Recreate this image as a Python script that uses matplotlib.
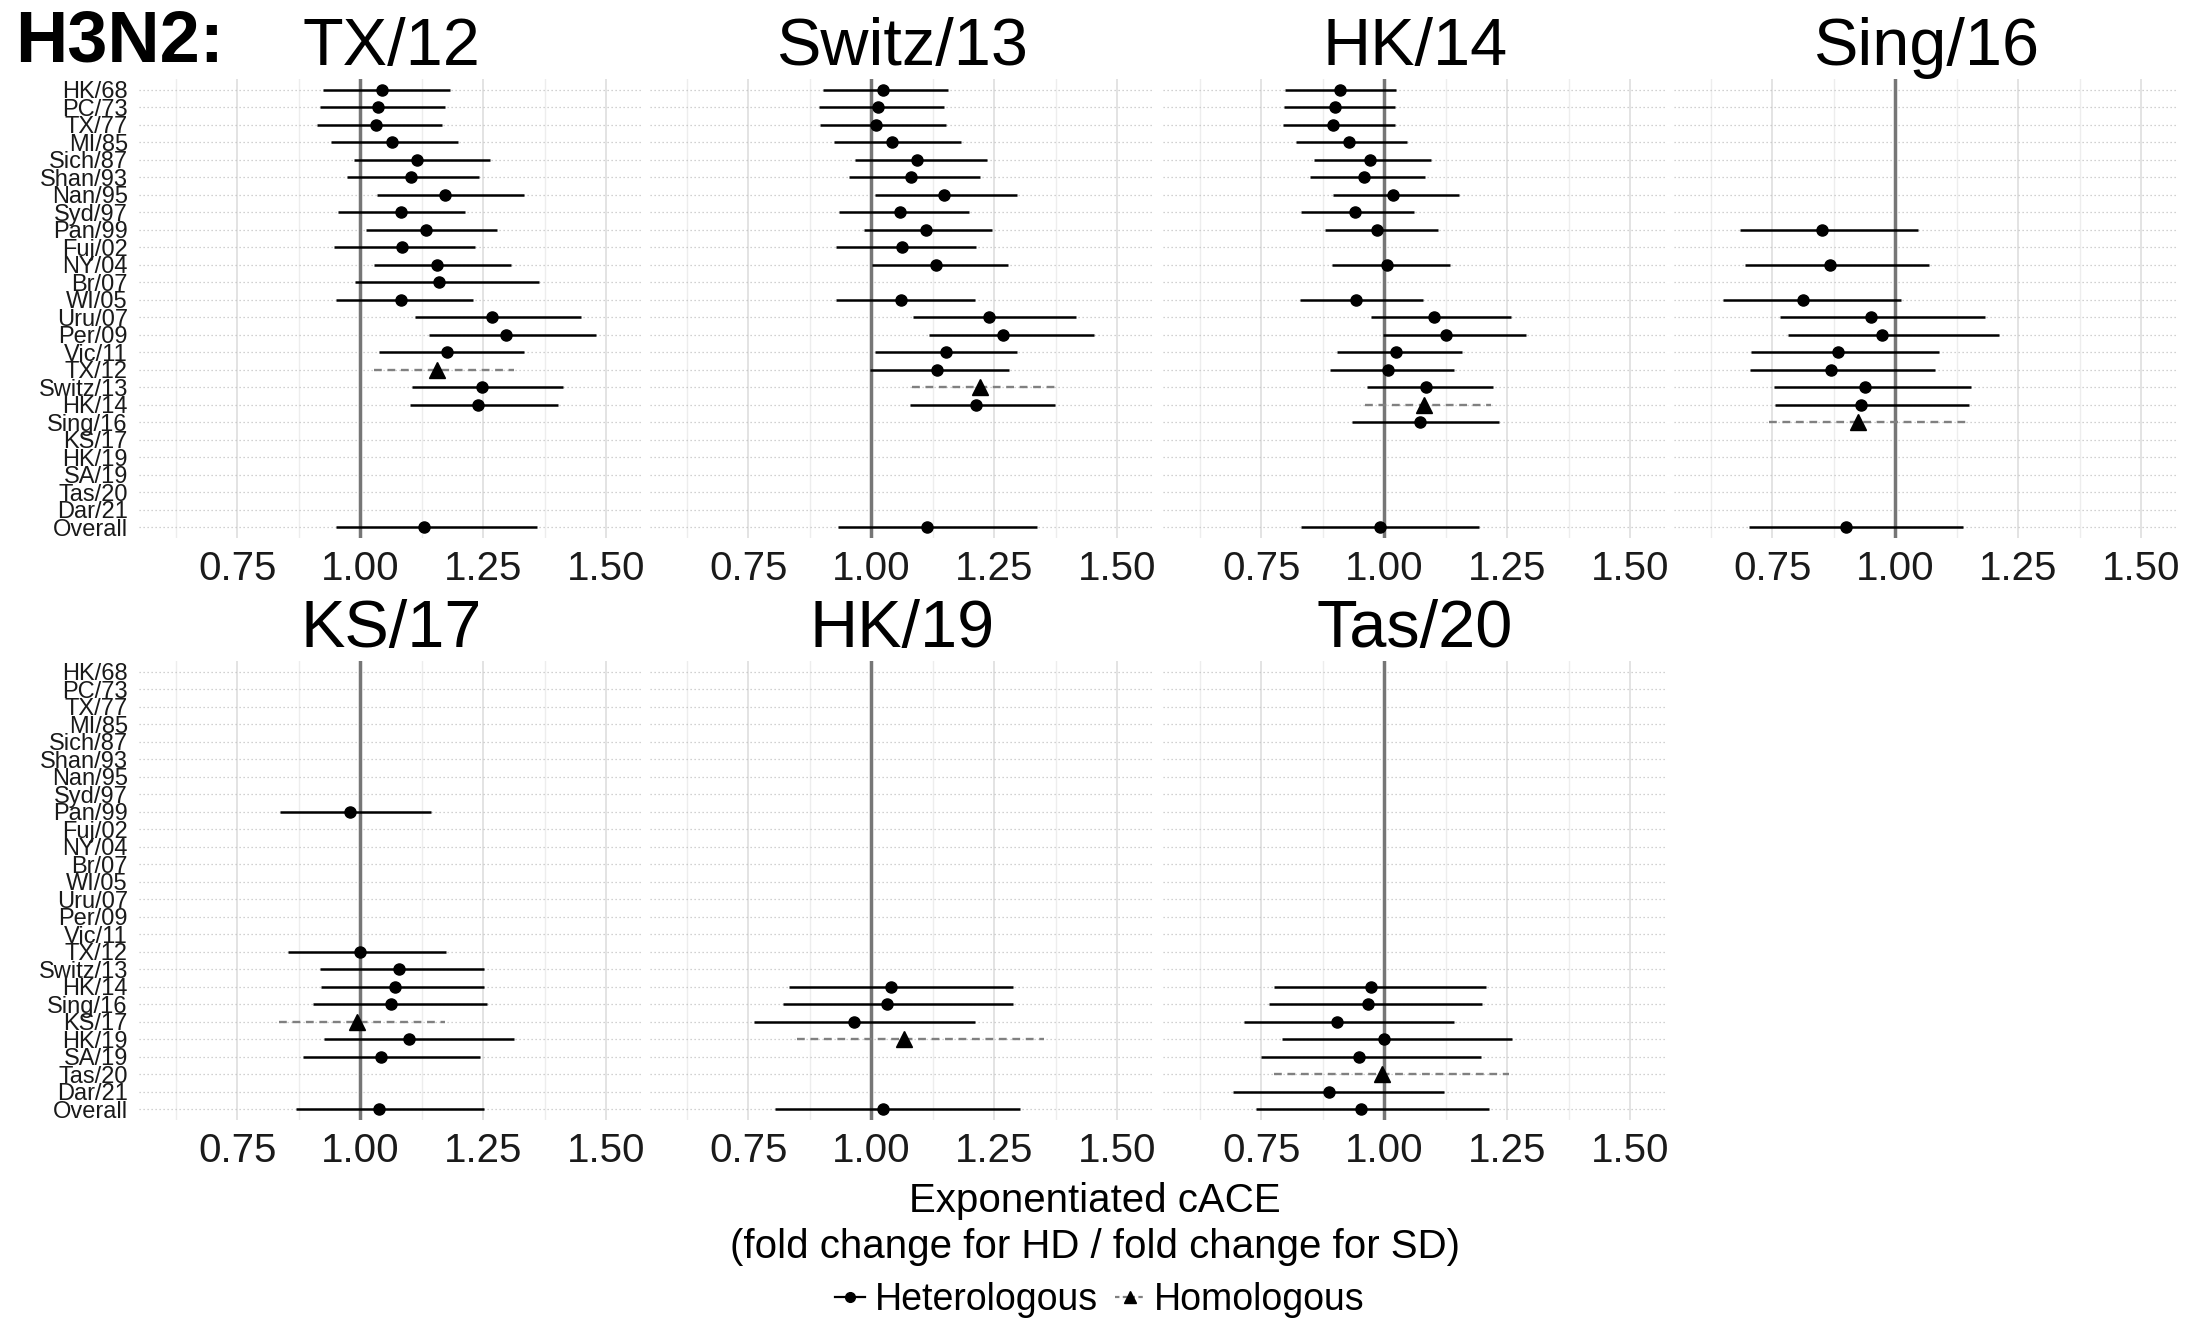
import matplotlib
matplotlib.use("Agg")
import matplotlib.pyplot as plt
from matplotlib.lines import Line2D

plt.rcParams['font.family'] = ['Liberation Sans', 'DejaVu Sans']

# strains on the y axis, top to bottom
strains = ["HK/68", "PC/73", "TX/77", "MI/85", "Sich/87", "Shan/93", "Nan/95",
           "Syd/97", "Pan/99", "Fuj/02", "NY/04", "Br/07", "WI/05", "Uru/07",
           "Per/09", "Vic/11", "TX/12", "Switz/13", "HK/14", "Sing/16", "KS/17",
           "HK/19", "SA/19", "Tas/20", "Dar/21", "Overall"]

# exponentiated cACE estimates with 95% CI, one block per vaccine strain
tx12_rows = ["HK/68", "PC/73", "TX/77", "MI/85", "Sich/87", "Shan/93", "Nan/95", "Syd/97",
             "Pan/99", "Fuj/02", "NY/04", "Br/07", "WI/05", "Uru/07", "Per/09", "Vic/11",
             "TX/12", "Switz/13", "HK/14", "Overall"]
tx12_est = [1.044, 1.037, 1.032, 1.065, 1.115, 1.104, 1.172, 1.082, 1.134, 1.085,
            1.156, 1.160, 1.083, 1.268, 1.296, 1.176, 1.157, 1.248, 1.240, 1.130]
tx12_lo = [0.925, 0.918, 0.911, 0.940, 0.987, 0.973, 1.034, 0.954, 1.011, 0.947,
           1.027, 0.989, 0.950, 1.111, 1.140, 1.038, 1.027, 1.106, 1.102, 0.951]
tx12_hi = [1.183, 1.172, 1.166, 1.198, 1.264, 1.242, 1.333, 1.214, 1.279, 1.234,
           1.306, 1.364, 1.230, 1.449, 1.480, 1.332, 1.313, 1.412, 1.402, 1.360]

switz13_rows = ["HK/68", "PC/73", "TX/77", "MI/85", "Sich/87", "Shan/93", "Nan/95", "Syd/97",
                "Pan/99", "Fuj/02", "NY/04", "WI/05", "Uru/07", "Per/09", "Vic/11", "TX/12",
                "Switz/13", "HK/14", "Overall"]
switz13_est = [1.023, 1.014, 1.010, 1.043, 1.092, 1.080, 1.147, 1.058, 1.111, 1.062,
               1.131, 1.061, 1.240, 1.267, 1.151, 1.134, 1.222, 1.213, 1.113]
switz13_lo = [0.901, 0.894, 0.895, 0.925, 0.966, 0.954, 1.007, 0.935, 0.986, 0.928,
              1.002, 0.928, 1.085, 1.118, 1.008, 0.997, 1.082, 1.079, 0.932]
switz13_hi = [1.157, 1.148, 1.152, 1.182, 1.236, 1.221, 1.297, 1.198, 1.246, 1.212,
              1.279, 1.210, 1.417, 1.452, 1.297, 1.280, 1.381, 1.373, 1.338]

hk14_rows = ["HK/68", "PC/73", "TX/77", "MI/85", "Sich/87", "Shan/93", "Nan/95", "Syd/97",
             "Pan/99", "NY/04", "WI/05", "Uru/07", "Per/09", "Vic/11", "TX/12", "Switz/13",
             "HK/14", "Sing/16", "Overall"]
hk14_est = [0.909, 0.899, 0.896, 0.928, 0.970, 0.959, 1.018, 0.941, 0.986, 1.005,
            0.943, 1.101, 1.126, 1.024, 1.007, 1.085, 1.080, 1.072, 0.992]
hk14_lo = [0.799, 0.796, 0.794, 0.821, 0.858, 0.848, 0.896, 0.831, 0.880, 0.893,
           0.828, 0.972, 0.997, 0.904, 0.890, 0.965, 0.961, 0.934, 0.831]
hk14_hi = [1.024, 1.021, 1.022, 1.047, 1.095, 1.083, 1.151, 1.061, 1.110, 1.134,
           1.078, 1.257, 1.289, 1.159, 1.141, 1.222, 1.218, 1.233, 1.193]

sing16_rows = ["Pan/99", "NY/04", "WI/05", "Uru/07", "Per/09", "Vic/11", "TX/12",
               "Switz/13", "HK/14", "Sing/16", "Overall"]
sing16_est = [0.851, 0.868, 0.813, 0.950, 0.972, 0.883, 0.869, 0.938, 0.931, 0.925, 0.899]
sing16_lo = [0.685, 0.695, 0.650, 0.766, 0.781, 0.706, 0.705, 0.753, 0.756, 0.743, 0.703]
sing16_hi = [1.047, 1.069, 1.012, 1.183, 1.210, 1.088, 1.080, 1.155, 1.149, 1.152, 1.137]

ks17_rows = ["Pan/99", "TX/12", "Switz/13", "HK/14", "Sing/16", "KS/17", "HK/19",
             "SA/19", "Overall"]
ks17_est = [0.979, 1.000, 1.078, 1.070, 1.062, 0.993, 1.099, 1.043, 1.038]
ks17_lo = [0.837, 0.853, 0.919, 0.920, 0.904, 0.834, 0.926, 0.883, 0.870]
ks17_hi = [1.143, 1.174, 1.252, 1.251, 1.257, 1.173, 1.312, 1.244, 1.251]

hk19_rows = ["HK/14", "Sing/16", "KS/17", "HK/19", "Overall"]
hk19_est = [1.040, 1.031, 0.964, 1.067, 1.023]
hk19_lo = [0.832, 0.821, 0.761, 0.848, 0.805]
hk19_hi = [1.289, 1.289, 1.211, 1.352, 1.302]

tas20_rows = ["HK/14", "Sing/16", "KS/17", "HK/19", "SA/19", "Tas/20", "Dar/21", "Overall"]
tas20_est = [0.973, 0.966, 0.903, 1.000, 0.948, 0.995, 0.888, 0.953]
tas20_lo = [0.776, 0.765, 0.715, 0.792, 0.749, 0.776, 0.692, 0.739]
tas20_hi = [1.206, 1.199, 1.141, 1.259, 1.196, 1.253, 1.122, 1.212]

panels = [
    ("TX/12", tx12_rows, tx12_est, tx12_lo, tx12_hi),
    ("Switz/13", switz13_rows, switz13_est, switz13_lo, switz13_hi),
    ("HK/14", hk14_rows, hk14_est, hk14_lo, hk14_hi),
    ("Sing/16", sing16_rows, sing16_est, sing16_lo, sing16_hi),
    ("KS/17", ks17_rows, ks17_est, ks17_lo, ks17_hi),
    ("HK/19", hk19_rows, hk19_est, hk19_lo, hk19_hi),
    ("Tas/20", tas20_rows, tas20_est, tas20_lo, tas20_hi),
]

x_ticks = [0.75, 1.00, 1.25, 1.50]
x_minor = [0.625, 0.875, 1.125, 1.375]

# figure layout in pixels
W, H = 2188, 1318
fig = plt.figure(figsize=(W / 100, H / 100), dpi=100)
col_left = [139, 650, 1163, 1674]
row_top = [79, 661]
panel_w, panel_h = 504, 459


def add_panel(col, row):
    left = col_left[col] / W
    bottom = 1 - (row_top[row] + panel_h) / H
    return fig.add_axes([left, bottom, panel_w / W, panel_h / H])


for i, (name, rows, est, lo, hi) in enumerate(panels):
    col, row = i % 4, i // 4
    ax = add_panel(col, row)
    ax.set_xlim(0.55, 1.575)
    ax.set_ylim(len(strains) - 0.4, -0.6)

    # background grid
    for x in x_minor:
        ax.axvline(x, color='#ededed', lw=1.0, zorder=0)
    for x in x_ticks:
        ax.axvline(x, color='#e0e0e0', lw=1.3, zorder=0)
    for y in range(len(strains)):
        ax.axhline(y, color='#c2c2c2', lw=0.9, ls=(0, (1, 2.2)), zorder=0)
    ax.axvline(1.0, color='#767676', lw=2.5, zorder=1)

    for r, e, l, h in zip(rows, est, lo, hi):
        y = strains.index(r)
        if r == name:
            # homologous strain
            ax.hlines(y, l, h, colors='#808080', lw=1.7, linestyles=(0, (3.3, 2.4)), zorder=2)
            ax.plot(e, y, marker='^', ms=11, color='black', ls='none', zorder=3)
        else:
            ax.hlines(y, l, h, colors='black', lw=1.8, zorder=2)
            ax.plot(e, y, marker='o', ms=8, color='black', ls='none', zorder=3)

    ax.set_xticks(x_ticks)
    ax.set_xticklabels(['0.75', '1.00', '1.25', '1.50'])
    ax.set_yticks(range(len(strains)))
    if col == 0:
        ax.set_yticklabels(strains)
    else:
        ax.set_yticklabels([])
    ax.tick_params(axis='x', length=0, pad=9, labelsize=29, labelcolor='#1a1a1a')
    ax.tick_params(axis='y', length=0, pad=8, labelsize=17, labelcolor='#1a1a1a')
    for s in ax.spines.values():
        s.set_visible(False)
    ax.set_title(name, fontsize=48, pad=9)

fig.text(15 / W, 1 - 61 / H, "H3N2:", fontsize=52, fontweight='bold',
         ha='left', va='baseline')

fig.text(1095 / W, 1 - 1212 / H, "Exponentiated cACE", fontsize=29,
         ha='center', va='baseline')
fig.text(1095 / W, 1 - 1258 / H, "(fold change for HD / fold change for SD)",
         fontsize=29, ha='center', va='baseline')

handles = [
    Line2D([], [], color='black', lw=1.6, marker='o', ms=7),
    Line2D([], [], color='#808080', lw=1.6, ls=(0, (2, 1.5)), marker='^', ms=8,
           markerfacecolor='black', markeredgecolor='black'),
]
fig.legend(handles, ["Heterologous", "Homologous"], loc='center',
           bbox_to_anchor=(1100 / W, 1 - 1300 / H), ncol=2, frameon=False,
           fontsize=27, handlelength=0.8, handletextpad=0.25, columnspacing=0.45)

fig.savefig("out.png", dpi=100)
